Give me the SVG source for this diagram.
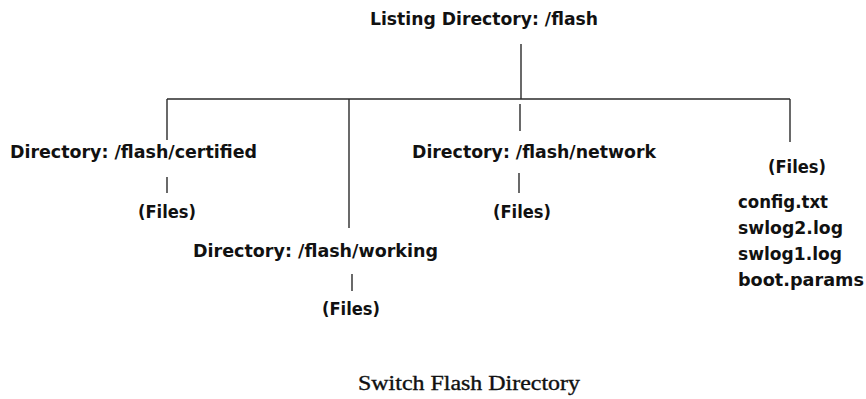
<svg xmlns="http://www.w3.org/2000/svg" width="866" height="399" viewBox="0 0 866 399">
<style>
.t{font-family:"DejaVu Sans","Liberation Sans",sans-serif;font-weight:bold;font-size:18px;fill:#111}
.c{font-family:"Liberation Serif","Times New Roman",serif;font-size:20px;fill:#111;stroke:#111;stroke-width:0.35}
.ln{stroke:#2a2a2a;stroke-width:1.4;fill:none}
</style>
<rect width="866" height="399" fill="#fff"/>
<g id="connectors" class="ln">
<line x1="521" y1="44" x2="521" y2="99"/>
<line x1="167" y1="99" x2="790" y2="99"/>
<line x1="167" y1="99" x2="167" y2="140"/>
<line x1="167" y1="177" x2="167" y2="193"/>
<line x1="349" y1="99" x2="349" y2="228"/>
<line x1="352" y1="274" x2="352" y2="291"/>
<line x1="520" y1="104" x2="520" y2="131"/>
<line x1="519" y1="173" x2="519" y2="193"/>
<line x1="790" y1="99" x2="790" y2="142"/>
</g>
<g id="root"><text class="t" x="370" y="25" textLength="228" lengthAdjust="spacingAndGlyphs">Listing Directory: /flash</text></g>
<g id="certified"><text class="t" x="10" y="158" textLength="247" lengthAdjust="spacingAndGlyphs">Directory: /flash/certified</text></g>
<g id="certified-files"><text class="t" x="138" y="218" textLength="58" lengthAdjust="spacingAndGlyphs">(Files)</text></g>
<g id="working"><text class="t" x="193" y="257" textLength="245" lengthAdjust="spacingAndGlyphs">Directory: /flash/working</text></g>
<g id="working-files"><text class="t" x="322" y="315" textLength="58" lengthAdjust="spacingAndGlyphs">(Files)</text></g>
<g id="network"><text class="t" x="412" y="158" textLength="244" lengthAdjust="spacingAndGlyphs">Directory: /flash/network</text></g>
<g id="network-files"><text class="t" x="493" y="218" textLength="58" lengthAdjust="spacingAndGlyphs">(Files)</text></g>
<g id="root-files">
<text class="t" x="768" y="173" textLength="58" lengthAdjust="spacingAndGlyphs">(Files)</text>
<text class="t" x="738" y="208" textLength="90" lengthAdjust="spacingAndGlyphs">config.txt</text>
<text class="t" x="738" y="234" textLength="105" lengthAdjust="spacingAndGlyphs">swlog2.log</text>
<text class="t" x="738" y="260" textLength="104" lengthAdjust="spacingAndGlyphs">swlog1.log</text>
<text class="t" x="738" y="286" textLength="126" lengthAdjust="spacingAndGlyphs">boot.params</text>
</g>
<g id="caption"><text class="c" x="358" y="390" textLength="222" lengthAdjust="spacingAndGlyphs">Switch Flash Directory</text></g>
</svg>
